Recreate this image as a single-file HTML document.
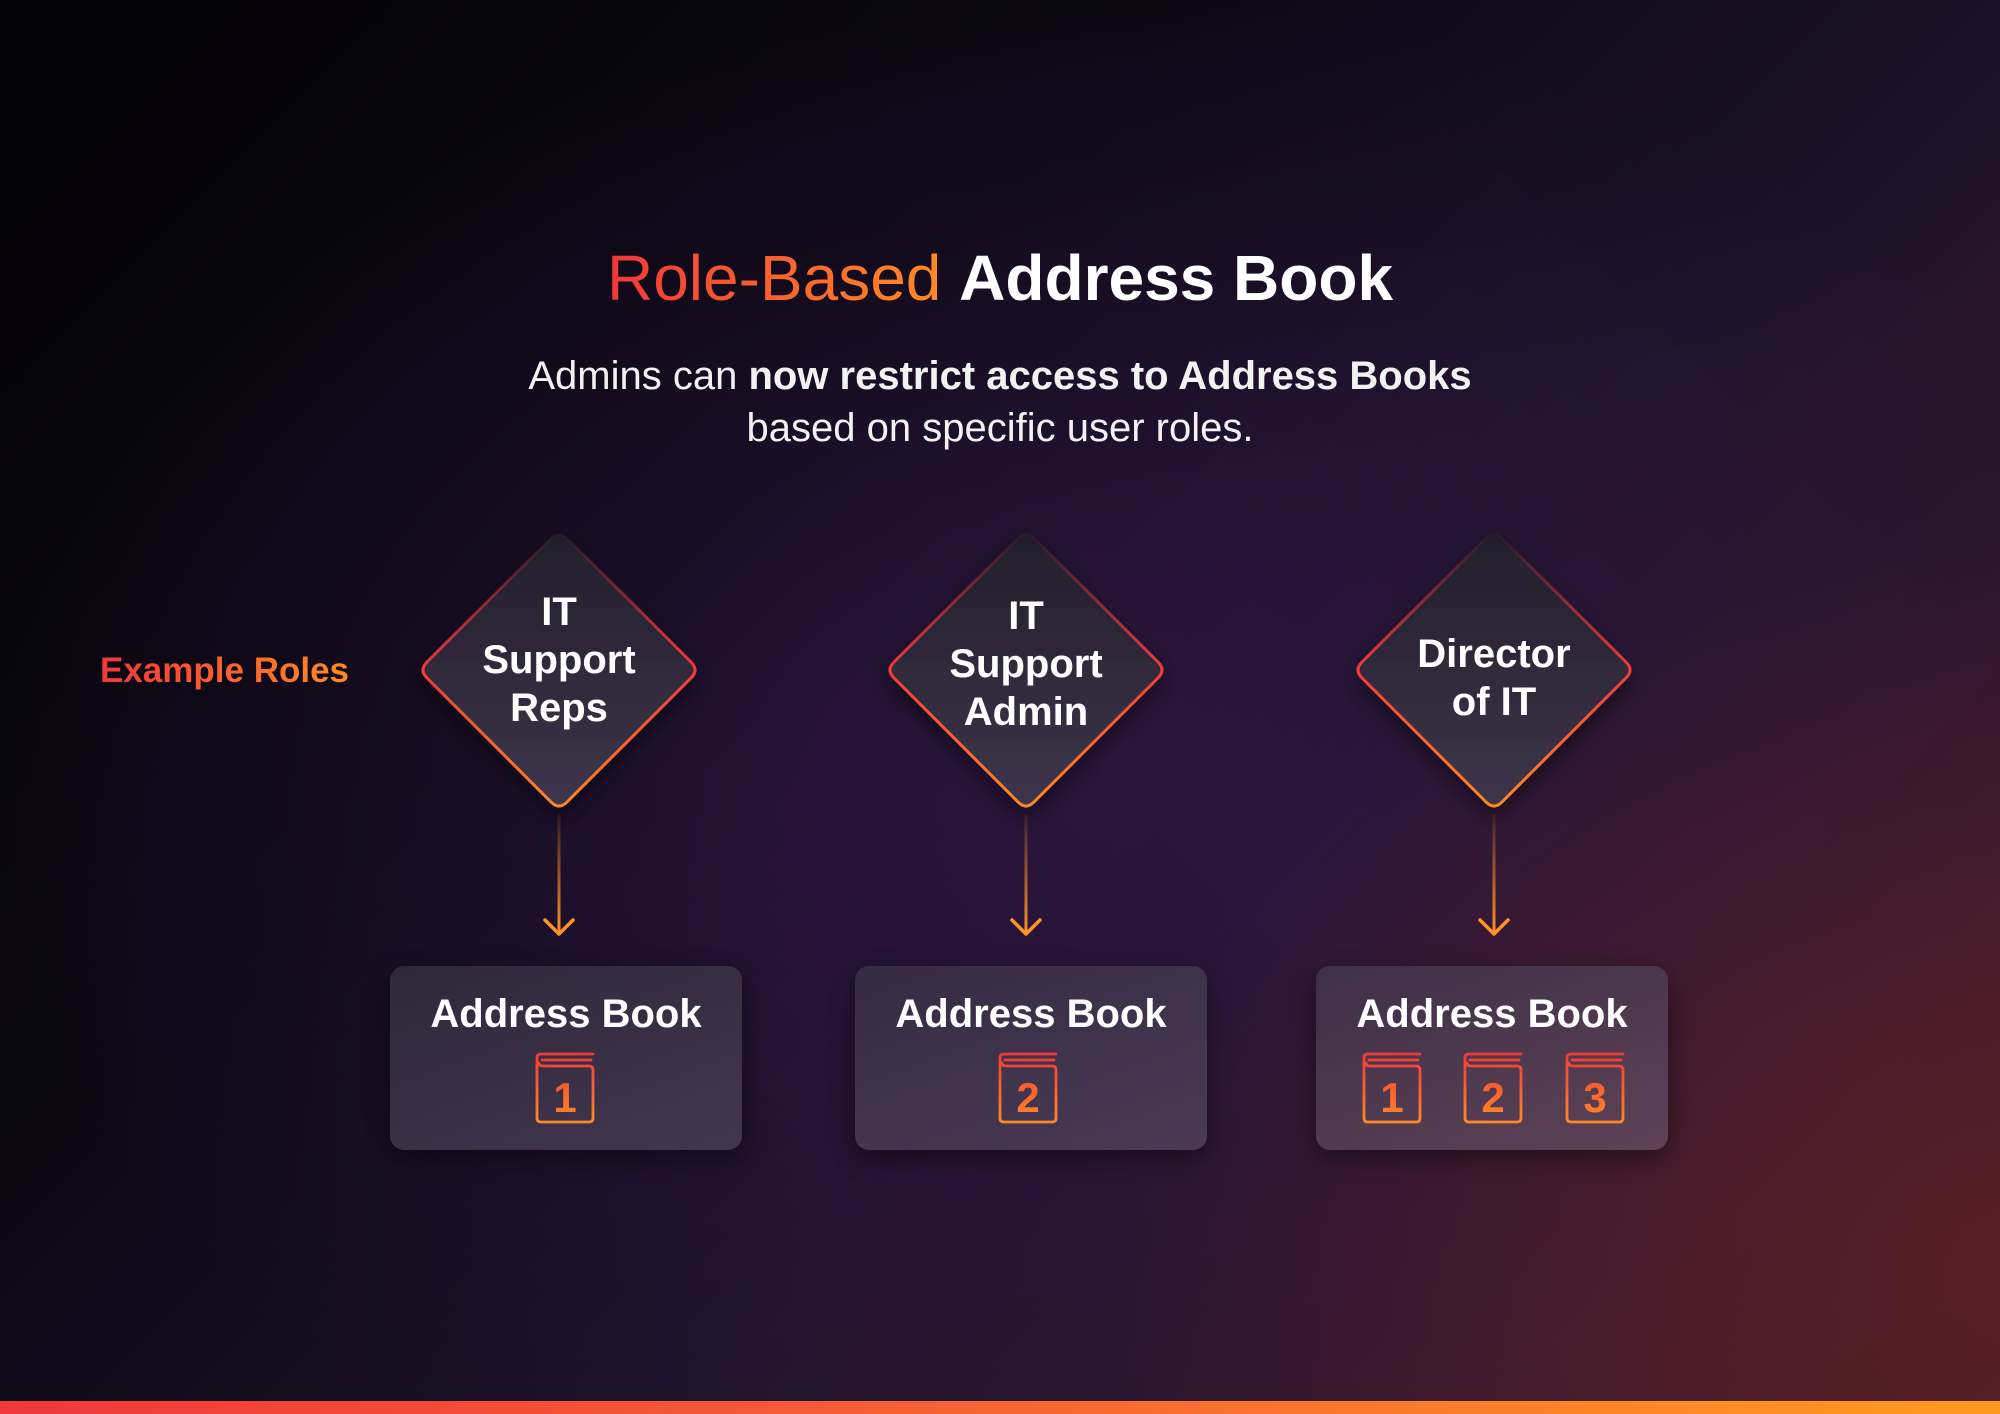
<!DOCTYPE html>
<html><head><meta charset="utf-8"><style>
*{margin:0;padding:0;box-sizing:border-box}
body{width:2000px;height:1414px;overflow:hidden;position:relative;font-family:"Liberation Sans","DejaVu Sans",sans-serif;color:#fff;
background:
radial-gradient(ellipse 900px 700px at 2000px 1250px, rgba(95,32,38,0.75), rgba(95,32,38,0) 100%),
radial-gradient(ellipse 1100px 800px at 1100px 800px, rgba(45,22,65,0.85), rgba(45,22,65,0) 100%),
linear-gradient(135deg,#040307 0%,#0b0812 35%,#1c1228 60%,#36192b 85%,#461d24 100%);}
.abs{position:absolute}
.title{left:0;width:2000px;top:238px;text-align:center;font-size:64px;line-height:80px}
.title .g{background:linear-gradient(90deg,#f0383a,#ff8a24);-webkit-background-clip:text;color:transparent;font-weight:normal}
.sub{left:0;width:2000px;top:350px;text-align:center;font-size:40px;line-height:52px;font-weight:normal;color:#f2f2f2}
.sub b{font-weight:bold}
.roles{left:100px;top:651px;font-size:35px;font-weight:bold;background:linear-gradient(90deg,#f0383a,#ff8a24);-webkit-background-clip:text;color:transparent}
.dtext{width:300px;text-align:center;font-size:40px;font-weight:bold;line-height:48px}
.box{top:966px;width:352px;height:184px;border-radius:14px;background:linear-gradient(160deg,#2e283a,#43364f);box-shadow:0 8px 24px rgba(0,0,0,0.45)}
.box .t{position:absolute;top:26px;width:100%;text-align:center;font-size:40px;font-weight:bold}
.bar{left:0;top:1401px;width:2000px;height:13px;background:linear-gradient(90deg,#f0383a,#f55a36 40%,#ff9a20)}
</style></head><body>
<svg class="abs" style="left:0;top:0" width="2000" height="1414">
<defs>
<linearGradient id="dg" gradientUnits="userSpaceOnUse" x1="0" y1="-140" x2="0" y2="140"><stop offset="0" stop-color="#221e2b"/><stop offset="1" stop-color="#3e354b"/></linearGradient>
<linearGradient id="sg" gradientUnits="userSpaceOnUse" x1="0" y1="-140" x2="0" y2="140"><stop offset="0" stop-color="#f0383a" stop-opacity="0"/><stop offset="0.25" stop-color="#f0383a" stop-opacity="0.5"/><stop offset="0.5" stop-color="#f23c38"/><stop offset="1" stop-color="#ff8a24"/></linearGradient>
<linearGradient id="ag" gradientUnits="userSpaceOnUse" x1="0" y1="816" x2="0" y2="934"><stop offset="0" stop-color="#ff8a24" stop-opacity="0.1"/><stop offset="1" stop-color="#ff9326"/></linearGradient>
<filter id="sh" x="-30%" y="-30%" width="160%" height="160%"><feDropShadow dx="0" dy="10" stdDeviation="12" flood-color="#000" flood-opacity="0.5"/></filter>
<path id="dm" d="M-8 -132 Q0 -140 8 -132 L132 -8 Q140 0 132 8 L8 132 Q0 140 -8 132 L-132 8 Q-140 0 -132 -8Z"/>
<g id="dia"><use href="#dm" fill="url(#dg)" filter="url(#sh)"/><use href="#dm" fill="none" stroke="url(#sg)" stroke-width="3"/></g>
</defs>
<path d="M1500 170 L2000 670 L1500 1170 L1000 670 Z" fill="#ffffff" opacity="0.006"/>
<use href="#dia" transform="translate(559,670)"/>
<use href="#dia" transform="translate(1026,670)"/>
<use href="#dia" transform="translate(1494,670)"/>
<g stroke="url(#ag)" stroke-width="3" fill="none" stroke-linecap="round">
<line x1="559" y1="816" x2="559" y2="934"/><line x1="1026" y1="816" x2="1026" y2="934"/><line x1="1494" y1="816" x2="1494" y2="934"/>
</g>
<g stroke="#ff9326" stroke-width="3.5" fill="none" stroke-linecap="round" stroke-linejoin="round">
<polyline points="545,920 559,934 573,920"/><polyline points="1012,920 1026,934 1040,920"/><polyline points="1480,920 1494,934 1508,920"/>
</g>
</svg>
<div class="abs title"><span class="g">Role-Based</span> <b>Address Book</b></div>
<div class="abs sub">Admins can <b>now restrict access to Address Books</b><br>based on specific user roles.</div>
<div class="abs roles">Example Roles</div>
<div class="abs dtext" style="left:409px;top:588px">IT<br>Support<br>Reps</div>
<div class="abs dtext" style="left:876px;top:592px">IT<br>Support<br>Admin</div>
<div class="abs dtext" style="left:1344px;top:630px">Director<br>of IT</div>
<div class="abs box" style="left:390px"><div class="t">Address Book</div></div>
<div class="abs box" style="left:855px;background:linear-gradient(160deg,#352b42,#4a3a55)"><div class="t">Address Book</div></div>
<div class="abs box" style="left:1316px;background:linear-gradient(160deg,#3e2f48,#5e4256)"><div class="t">Address Book</div></div>
<svg class="abs" style="left:0;top:0" width="2000" height="1414">
<defs>
<linearGradient id="ig2" gradientUnits="userSpaceOnUse" x1="0" y1="0" x2="0" y2="72"><stop offset="0" stop-color="#f0383a"/><stop offset="1" stop-color="#ff8a24"/></linearGradient>
<g id="bk" fill="none" stroke="url(#ig2)" stroke-width="2.8" stroke-linecap="round"><path d="M58 2 H6 Q2 2 2 6 V66 Q2 70 6 70 H54 Q58 70 58 66 V18 Q58 14 54 14 H8 Q4 14 4 11"/><line x1="7" y1="8" x2="56" y2="8"/></g>
</defs>
<g font-family="Liberation Sans,sans-serif" font-weight="bold" font-size="42" fill="url(#ig2)" text-anchor="middle">
<g transform="translate(535,1052)"><use href="#bk"/><text x="30" y="60">1</text></g>
<g transform="translate(998,1052)"><use href="#bk"/><text x="30" y="60">2</text></g>
<g transform="translate(1362,1052)"><use href="#bk"/><text x="30" y="60">1</text></g>
<g transform="translate(1463,1052)"><use href="#bk"/><text x="30" y="60">2</text></g>
<g transform="translate(1565,1052)"><use href="#bk"/><text x="30" y="60">3</text></g>
</g>
</svg>
<div class="abs bar"></div>
</body></html>
